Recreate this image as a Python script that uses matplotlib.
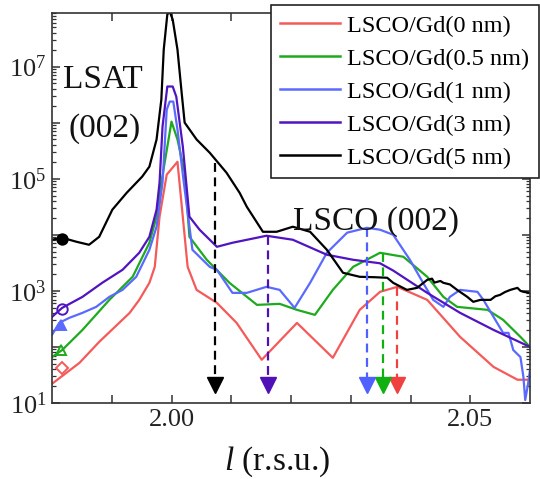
import matplotlib
matplotlib.use('Agg')
import matplotlib.pyplot as plt
import numpy as np
from matplotlib.ticker import LogLocator, FixedLocator, FuncFormatter, NullFormatter, FixedFormatter

plt.rcParams['font.family'] = ['Liberation Serif', 'DejaVu Serif']
plt.rcParams['mathtext.fontset'] = 'custom'
plt.rcParams['mathtext.rm'] = 'Liberation Serif'
plt.rcParams['mathtext.it'] = 'Liberation Serif:italic'

# ---------------- data ----------------
labels = ['LSCO/Gd(0 nm)', 'LSCO/Gd(0.5 nm)', 'LSCO/Gd(1 nm)', 'LSCO/Gd(3 nm)', 'LSCO/Gd(5 nm)']
colors = ['#f55a5a', '#1eaa1e', '#5a6aff', '#5014c0', '#000000']

red_l = [1.980, 1.9846, 1.9879, 1.9930, 1.9946, 1.9963, 1.9972, 1.9980, 1.9992, 2.0010,
         2.0027, 2.0042, 2.0076, 2.0109, 2.0151, 2.0210, 2.0270, 2.0315, 2.0349, 2.0378,
         2.0428, 2.0483, 2.0539, 2.0579, 2.060]
red_I = [22, 52, 123, 405, 690, 1390, 2680, 2.1e4, 1.18e5, 2.0e5,
         2680, 1040, 610, 268, 59, 268, 64, 458, 960, 1180,
         690, 151, 44, 26, 26]

green_l = [1.980, 1.9817, 1.9851, 1.9896, 1.9935, 1.9963, 1.9975, 1.9983, 2.0000, 2.0010,
           2.0022, 2.0030, 2.0059, 2.0097, 2.0143, 2.0181, 2.0210, 2.0240, 2.0270, 2.0304,
           2.0349, 2.0388, 2.0428, 2.0455, 2.0478, 2.0529, 2.0555, 2.0584, 2.060]
green_I = [66, 88, 201, 690, 1780, 7200, 2.1e4, 8.5e4, 1.04e6, 5.0e5,
           1.28e5, 9200, 3580, 1390, 562, 586, 458, 373, 1040, 2680,
           4770, 4050, 1780, 781, 518, 458, 304, 151, 100]

blue_l = [1.980, 1.9812, 1.9829, 1.9851, 1.9874, 1.9896, 1.9918, 1.9941, 1.9963, 1.9975,
          1.9985, 1.9992, 1.9997, 2.0003, 2.0010, 2.0020, 2.0035, 2.0064, 2.0076, 2.0102,
          2.0126, 2.0159, 2.0181, 2.0206, 2.0232, 2.0260, 2.0294, 2.0327, 2.0349, 2.0371,
          2.0399, 2.0421, 2.0438, 2.0455, 2.0466, 2.0483, 2.0512, 2.0522, 2.0539, 2.0555,
          2.0564, 2.0572, 2.0584, 2.0589, 2.0592, 2.0597, 2.060]
blue_I = [164, 268, 330, 405, 518, 781, 1040, 1780, 5400, 1.39e4,
          8.5e4, 1.7e6, 2.37e6, 2.37e6, 7.5e5, 9.6e4, 5400, 2680, 2370, 920,
          920, 1180, 1040, 497, 1390, 4770, 1.09e4, 1.33e4, 1.23e4, 1.0e4,
          3580, 1390, 690, 518, 781, 1040, 960, 690, 343, 178,
          178, 88, 66, 29, 11.3, 22.8, 38.8]

purple_l = [1.980, 1.9817, 1.9851, 1.9884, 1.9918, 1.9946, 1.9963, 1.9975, 1.9980, 1.9985,
            1.9993, 2.0002, 2.0008, 2.0019, 2.0030, 2.0047, 2.0076, 2.0102, 2.0159, 2.0203,
            2.0260, 2.0304, 2.0349, 2.0371, 2.0428, 2.0483, 2.0539, 2.060]
purple_I = [343, 497, 781, 1390, 2370, 4770, 9200, 2.8e4, 8.5e4, 8.5e5,
            4.4e6, 4.4e6, 2.9e6, 3.7e5, 2.1e4, 1.23e4, 6100, 7200, 9600, 8150,
            4400, 3580, 3100, 2300, 920, 405, 201, 100]

black_l = [1.980, 1.9817, 1.9841, 1.9862, 1.9879, 1.9901, 1.9925, 1.9951, 1.9963, 1.9975,
           1.9983, 1.9987, 1.9993, 1.9997, 2.0002, 2.0010, 2.0017, 2.0022, 2.0042, 2.0064,
           2.0092, 2.0114, 2.0126, 2.0153, 2.0176, 2.0203, 2.0232, 2.0260, 2.0287, 2.0315,
           2.0340, 2.0361, 2.0371, 2.0394, 2.0411, 2.0428, 2.0436, 2.0440, 2.0450, 2.0455,
           2.0466, 2.0478, 2.0495, 2.0505, 2.0517, 2.0534, 2.0542, 2.0550, 2.0558, 2.0567,
           2.0579, 2.0584, 2.0589, 2.060]
black_I = [8150, 8840, 7500, 6630, 9200, 2.8e4, 5.6e4, 1.09e5, 1.64e5, 5.0e5,
           2.58e6, 2.0e7, 8.5e7, 9.5e7, 6.9e7, 2.0e7, 3.4e6, 1.0e6, 5.0e5, 2.9e5,
           1.28e5, 5.6e4, 3.16e4, 1.13e4, 1.13e4, 1.39e4, 1.13e4, 5400, 2100, 1780,
           1750, 1710, 1390, 1040, 1130, 1570, 1650, 1400, 1500, 1390,
           1300, 1040, 781, 637, 690, 690, 800, 848, 950, 1040,
           1130, 1000, 960, 920]

# side markers (symbol legend at left edge)
mark_l = [1.9817, 1.9815, 1.9815, 1.9817, 1.9817]
mark_I = [42, 88, 247, 477, 8500]
mark_style = ['D', '^', '^', 'o', 'o']
mark_fill = [False, False, True, False, True]

# peak position arrows
arrow_l = [2.0378, 2.0354, 2.0327, 2.0161, 2.0072]
arrow_top = [1180, 4770, 1.33e4, 9600, 1.93e5]
arrow_colors = ['#f04040', '#10b010', '#5060ff', '#5010b8', '#000000']
arrow_head_top = 29
arrow_head_mid = 21

xtick_vals = [1.99, 2.00, 2.01, 2.02, 2.03, 2.04, 2.05]
xtick_labels = ['', '2.00', '', '', '', '', '2.05']

# ---------------- figure ----------------
fig = plt.figure(figsize=(5.4, 4.79), dpi=100)
ax = fig.add_axes([52/540, 76/479, 478/540, 390/479])

series = [(red_l, red_I), (green_l, green_I), (blue_l, blue_I), (purple_l, purple_I), (black_l, black_I)]
lines = []
for (lx, ly), c, lab in zip(series, colors, labels):
    ln, = ax.plot(lx, ly, color=c, lw=1.6, label=lab)
    lines.append(ln)

for lx, ly, m, f, c in zip(mark_l, mark_I, mark_style, mark_fill, colors):
    ax.plot([lx], [ly], marker=m, ms=7.5 if m != 'D' else 6.5, mew=1.4,
            mfc=c if f else 'none', mec=c, ls='none', clip_on=False, zorder=5)

for lx, top, c in zip(arrow_l, arrow_top, arrow_colors):
    ax.plot([lx, lx], [top, arrow_head_top], color=c, lw=1.6, dashes=(4, 2.5))
    ax.plot([lx], [arrow_head_mid], marker='v', ms=11, color=c, ls='none')

ax.set_yscale('log')
ax.set_xlim(1.98, 2.06)
ax.set_ylim(10, 9e7)

ax.yaxis.set_major_locator(LogLocator(base=10, numticks=20))
ax.yaxis.set_minor_locator(LogLocator(base=10, subs=np.arange(2, 10), numticks=20))
ax.yaxis.set_minor_formatter(NullFormatter())

def yfmt(v, p):
    e = int(round(np.log10(v)))
    return r'$10^{%d}$' % e if e % 2 == 1 else ''
ax.yaxis.set_major_formatter(FuncFormatter(yfmt))

ax.xaxis.set_major_locator(FixedLocator(xtick_vals))
ax.xaxis.set_major_formatter(FixedFormatter(xtick_labels))

ax.tick_params(which='both', direction='in', top=True, right=True, colors='#333333',
               labelcolor='#222222')
ax.tick_params(which='major', length=6, width=1.1, labelsize=19, pad=4)
ax.tick_params(which='minor', length=3, width=0.9)
for s in ax.spines.values():
    s.set_color('#333333')
    s.set_linewidth(1.2)

# texts
fig.text(103/540, 1 - 88/479, 'LSAT', ha='center', va='baseline', fontsize=24, color='#111111')
fig.text(105/540, 1 - 137/479, '(002)', ha='center', va='baseline', fontsize=24, color='#111111')
fig.text(293/540, 1 - 230/479, 'LSCO (002)', ha='left', va='baseline', fontsize=24, color='#111111')
fig.text(277/540, 1 - 470/479, r'$\mathit{l}$ (r.s.u.)', ha='center', va='baseline', fontsize=24,
         color='#111111')

leg = fig.legend(handles=lines, loc='upper right', bbox_to_anchor=(0.998, 1 - 5/479),
                 fontsize=17.5, frameon=True, fancybox=False, edgecolor='#222222',
                 framealpha=1, borderpad=0.4, labelspacing=0.45, handlelength=2.45,
                 handletextpad=0.3, borderaxespad=0)
leg.get_frame().set_linewidth(1.2)
for h in leg.get_lines():
    h.set_linewidth(1.8)

fig.savefig('out.png', dpi=100)
